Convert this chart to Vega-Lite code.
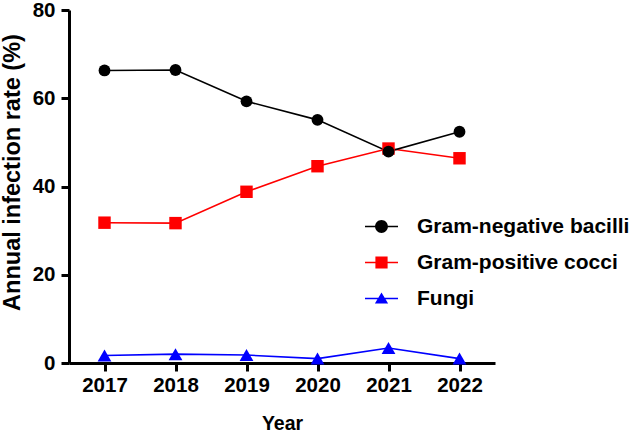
{
  "$schema": "https://vega.github.io/schema/vega-lite/v6.json",
  "autosize": "none",
  "width": 426,
  "height": 353,
  "padding": {"left": 69, "top": 10, "right": 138, "bottom": 72},
  "background": "white",
  "data": {
    "values": [
      {"year": 2017, "group": "Fungi", "rate": 1.7},
      {"year": 2018, "group": "Fungi", "rate": 2.0},
      {"year": 2019, "group": "Fungi", "rate": 1.8},
      {"year": 2020, "group": "Fungi", "rate": 1.0},
      {"year": 2021, "group": "Fungi", "rate": 3.4},
      {"year": 2022, "group": "Fungi", "rate": 1.0},
      {"year": 2017, "group": "Gram-positive cocci", "rate": 31.8},
      {"year": 2018, "group": "Gram-positive cocci", "rate": 31.7},
      {"year": 2019, "group": "Gram-positive cocci", "rate": 38.8},
      {"year": 2020, "group": "Gram-positive cocci", "rate": 44.6},
      {"year": 2021, "group": "Gram-positive cocci", "rate": 48.6},
      {"year": 2022, "group": "Gram-positive cocci", "rate": 46.4},
      {"year": 2017, "group": "Gram-negative bacilli", "rate": 66.3},
      {"year": 2018, "group": "Gram-negative bacilli", "rate": 66.4},
      {"year": 2019, "group": "Gram-negative bacilli", "rate": 59.3},
      {"year": 2020, "group": "Gram-negative bacilli", "rate": 55.1},
      {"year": 2021, "group": "Gram-negative bacilli", "rate": 47.9},
      {"year": 2022, "group": "Gram-negative bacilli", "rate": 52.4}
    ]
  },
  "encoding": {
    "x": {
      "field": "year", "type": "quantitative",
      "scale": {"domain": [2016.5, 2022.5], "nice": false, "zero": false},
      "axis": {
        "title": "Year", "values": [2017, 2018, 2019, 2020, 2021, 2022], "format": "d",
        "grid": false, "domainColor": "black", "domainWidth": 3, "tickColor": "black", "tickWidth": 3, "tickSize": 8,
        "labelFont": "Liberation Sans", "labelFontWeight": "bold", "labelFontSize": 20.5, "labelColor": "black", "labelPadding": 4,
        "titleFont": "Liberation Sans", "titleFontWeight": "bold", "titleFontSize": 19.5, "titleColor": "black",
        "titleBaseline": "middle", "titleY": 60, "labelFlush": false
      }
    },
    "y": {
      "field": "rate", "type": "quantitative",
      "scale": {"domain": [0, 80], "nice": false},
      "axis": {
        "title": "Annual infection rate (%)", "values": [0, 20, 40, 60, 80],
        "grid": false, "domainColor": "black", "domainWidth": 3, "tickColor": "black", "tickWidth": 3, "tickSize": 8,
        "labelFont": "Liberation Sans", "labelFontWeight": "bold", "labelFontSize": 20.5, "labelColor": "black", "labelPadding": 6,
        "titleFont": "Liberation Sans", "titleFontWeight": "bold", "titleFontSize": 23.5, "titleColor": "black",
        "titleAngle": -90, "titleBaseline": "middle", "titleAlign": "center", "titleX": -57, "titleY": 162, "labelFlush": false
      }
    },
    "color": {
      "field": "group", "type": "nominal",
      "scale": {"domain": ["Gram-negative bacilli", "Gram-positive cocci", "Fungi"], "range": ["#000000", "#ff0000", "#0000ff"]},
      "legend": {
        "title": null, "orient": "none", "legendX": 296, "legendY": 200, "padding": 0,
        "symbolSize": 1089, "labelOffset": 19, "rowPadding": 9, "labelLimit": 400,
        "symbolStrokeWidth": 0, "symbolOpacity": 1,
        "symbolType": {"expr": "datum.value === 'Gram-negative bacilli' ? 'M-1,-0.045L1,-0.045L1,0.045L-1,0.045Z M-0.39,0 A0.39,0.39 0 1,1 0.39,0 A0.39,0.39 0 1,1 -0.39,0 Z' : datum.value === 'Gram-positive cocci' ? 'M-1,-0.045L1,-0.045L1,0.045L-1,0.045Z M-0.37,-0.37L0.37,-0.37L0.37,0.37L-0.37,0.37Z' : 'M-1,-0.045L1,-0.045L1,0.045L-1,0.045Z M0,-0.36L0.4,0.3L-0.4,0.3Z'"},
        "labelFont": "Liberation Sans", "labelFontWeight": "bold", "labelFontSize": 21, "labelColor": "black"
      }
    }
  },
  "layer": [
    {
      "mark": {"type": "line", "strokeWidth": 1.6}
    },
    {
      "transform": [{"filter": "datum.group === 'Fungi'"}],
      "mark": {"type": "point", "filled": true, "opacity": 1, "shape": "triangle-up", "size": 190}
    },
    {
      "transform": [{"filter": "datum.group === 'Gram-positive cocci'"}],
      "mark": {"type": "point", "filled": true, "opacity": 1, "shape": "square", "size": 155}
    },
    {
      "transform": [{"filter": "datum.group === 'Gram-negative bacilli'"}],
      "mark": {"type": "point", "filled": true, "opacity": 1, "shape": "circle", "size": 140}
    }
  ],
  "config": {"view": {"stroke": null}}
}
